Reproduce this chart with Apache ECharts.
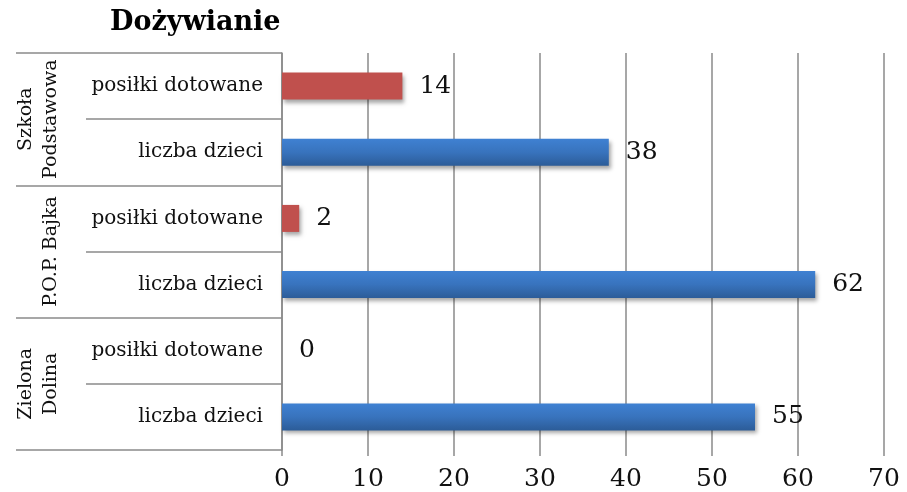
<!DOCTYPE html>
<html>
<head>
<meta charset="utf-8">
<script src="https://cdn.jsdelivr.net/npm/echarts@6/dist/echarts.min.js"></script>
<style>
  html, body { margin: 0; padding: 0; background: #fff; }
  #chart { width: 907px; height: 492px; }
</style>
</head>
<body>
<div id="chart"></div>
<script>
// kategorie od dołu do góry
const groups = ['Zielona\nDolina', 'P.O.P. Bajka', 'Szkoła\nPodstawowa']
const categories = ['liczba dzieci', 'posiłki dotowane', 'liczba dzieci', 'posiłki dotowane', 'liczba dzieci', 'posiłki dotowane']
const liczbaDzieci = [55, '-', 62, '-', 38, '-']
const posilkiDotowane = ['-', 0, '-', 2, '-', 14]
const xTicks = [0, 10, 20, 30, 40, 50, 60, 70]

const serif = '"DejaVu Serif", "Liberation Serif", serif'
const lineColor = '#8a8a8a'

const chart = echarts.init(document.getElementById('chart'))

const barShadow = {
  shadowBlur: 4,
  shadowOffsetX: 2,
  shadowOffsetY: 3,
  shadowColor: 'rgba(0,0,0,0.35)'
}

const dataLabel = {
  show: true,
  position: 'right',
  distance: 17,
  fontFamily: serif,
  fontSize: 25,
  color: '#111',
  formatter: p => p.value
}

chart.setOption({
  animation: false,
  title: {
    text: 'Dożywianie',
    left: 105,
    top: 4,
    textStyle: { fontFamily: serif, fontWeight: 'bold', fontSize: 27, color: '#000' }
  },
  grid: { left: 282, right: 23, top: 53, bottom: 42, containLabel: false },
  xAxis: {
    type: 'value',
    min: xTicks[0],
    max: xTicks[xTicks.length - 1],
    interval: 10,
    axisLine: { show: false },
    axisTick: { show: true, length: 6, lineStyle: { color: lineColor, width: 1.5 } },
    splitLine: { show: true, lineStyle: { color: lineColor, width: 1.5 } },
    axisLabel: { fontFamily: serif, fontSize: 25, color: '#111', margin: 17 }
  },
  yAxis: [
    {
      type: 'category',
      data: categories,
      axisLine: { show: true, lineStyle: { color: lineColor, width: 1.5 } },
      axisTick: { show: true, length: 196, interval: 0, lineStyle: { color: lineColor, width: 1.5 } },
      axisLabel: { fontFamily: serif, fontSize: 20, color: '#111', margin: 19, interval: 0 }
    },
    {
      type: 'category',
      data: groups,
      position: 'left',
      offset: 0,
      axisLine: { show: false },
      axisTick: { show: true, length: 266, interval: 0, lineStyle: { color: lineColor, width: 1.5 } },
      axisLabel: {
        fontFamily: serif, fontSize: 19, color: '#111',
        rotate: 90, margin: 218, lineHeight: 25, interval: 0, hideOverlap: false
      }
    }
  ],
  series: [
    {
      name: 'liczba dzieci',
      type: 'bar',
      stack: 'a',
      barWidth: 27,
      data: liczbaDzieci,
      itemStyle: Object.assign({
        color: new echarts.graphic.LinearGradient(0, 0, 0, 1, [
          { offset: 0, color: '#3f81d2' },
          { offset: 0.5, color: '#3873bd' },
          { offset: 1, color: '#2c5c98' }
        ])
      }, barShadow),
      label: dataLabel
    },
    {
      name: 'posiłki dotowane',
      type: 'bar',
      stack: 'a',
      barWidth: 27,
      data: posilkiDotowane,
      itemStyle: Object.assign({ color: '#c0504d' }, barShadow),
      label: dataLabel
    }
  ]
})
</script>
</body>
</html>
